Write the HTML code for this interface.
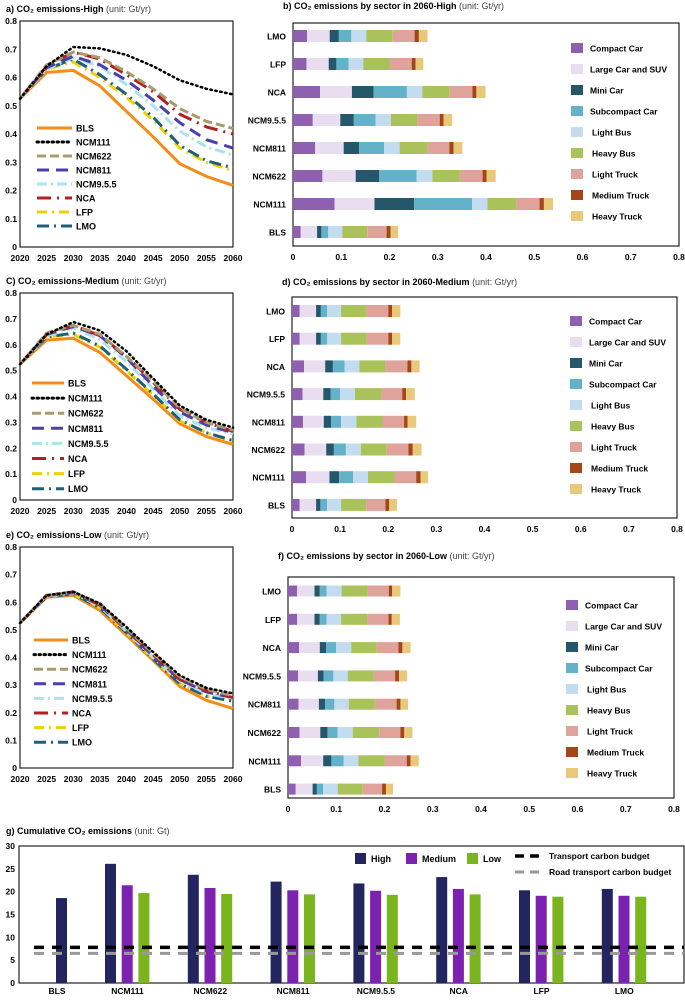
<!DOCTYPE html>
<html><head><meta charset="utf-8"><style>
html,body{margin:0;padding:0;background:#fff}
svg text{font-family:"Liberation Sans",Arial,sans-serif}
</style></head><body>
<svg id="s" width="685" height="997" viewBox="0 0 685 997" xmlns="http://www.w3.org/2000/svg"></svg>
<script>
const S=document.getElementById('s');let h='';
function T(x,y,t,o={}){h+=`<text x="${x}" y="${y}" font-size="${o.fs||9}" font-weight="${o.w||'bold'}" fill="${o.c||'#000'}" text-anchor="${o.a||'start'}">${t}</text>`;}
function title(x,y,a,b){h+=`<text x="${x}" y="${y}" font-size="9" font-family="Liberation Sans"><tspan font-weight="bold">${a}</tspan><tspan font-weight="normal" fill="#444"> ${b}</tspan></text>`;}
const styles={BLS:['#f28c1c',''],NCM111:['#000','1.5 3.5'],NCM622:['#a89c6c','9 4'],NCM811:['#4b3fb0','12 7'],'NCM9.5.5':['#a8e4ea','10 4 2 4'],NCA:['#b32020','14 6 2 6'],LFP:['#ecd000','10 5 2 5'],LMO:['#1f5f7a','12 5 2 5']};
const names=['BLS','NCM111','NCM622','NCM811','NCM9.5.5','NCA','LFP','LMO'];
function lineP(top,bot,data,leg,tt){
 const L=20,R=233;
 title(6,top-9,tt[0],tt[1]);
 h+=`<rect x="${L}" y="${top}" width="${R-L}" height="${bot-top}" fill="none" stroke="#222" stroke-width="1.2"/>`;
 for(let i=0;i<=8;i++){let y=bot-(bot-top)*i/8;T(17,y+3,i==0?'0':(i/10).toFixed(1),{a:'end',fs:8.5});}
 for(let i=0;i<=8;i++){let x=L+(R-L)*i/8;T(x,bot+14,2020+5*i,{a:'middle',fs:8.5});}
 const order=['BLS','LFP','LMO','NCM9.5.5','NCM811','NCA','NCM622','NCM111'];
 for(const n of order){const d=data[n];const st=styles[n];
  let p=d.map((v,i)=>`${(L+(R-L)*i/8).toFixed(1)},${(bot-(bot-top)*v/0.8).toFixed(1)}`).join(' ');
  h+=`<polyline points="${p}" fill="none" stroke="${st[0]}" stroke-width="${n=='NCM111'?2.5:3}" stroke-linecap="${n=='NCM111'?'round':'butt'}" ${st[1]?`stroke-dasharray="${st[1]}"`:''}/>`;}
 names.forEach((n,i)=>{const y=leg[0]+leg[1]*i;const st=styles[n];
  h+=`<line x1="${leg[2]}" x2="${leg[3]}" y1="${y}" y2="${y}" stroke="${st[0]}" stroke-width="3" stroke-linecap="${n=='NCM111'?'round':'butt'}" ${st[1]?`stroke-dasharray="${st[1]}"`:''}/>`;
  T(leg[3]+4,y+3.5,n,{fs:9});});
}
lineP(21,247,{BLS:[.525,.618,.625,.57,.48,.39,.295,.25,.218],NCM111:[.525,.64,.708,.703,.68,.64,.59,.56,.54],NCM622:[.525,.645,.69,.67,.62,.56,.49,.445,.42],NCM811:[.525,.635,.675,.645,.59,.52,.44,.38,.35],'NCM9.5.5':[.525,.63,.67,.64,.575,.5,.41,.355,.325],NCA:[.525,.64,.69,.665,.61,.55,.47,.425,.4],LFP:[.525,.63,.655,.6,.53,.45,.35,.3,.27],LMO:[.525,.63,.665,.61,.54,.46,.36,.305,.28]},[128,14,37,72],['a) CO₂ emissions-High','(unit: Gt/yr)']);
lineP(293,500,{BLS:[.525,.618,.625,.57,.48,.39,.295,.245,.215],NCM111:[.525,.64,.688,.655,.575,.47,.365,.31,.28],NCM622:[.525,.645,.675,.64,.555,.46,.355,.3,.27],NCM811:[.525,.64,.67,.635,.55,.44,.34,.29,.26],'NCM9.5.5':[.525,.635,.665,.62,.535,.43,.325,.28,.255],NCA:[.525,.64,.675,.635,.555,.455,.35,.3,.265],LFP:[.525,.63,.64,.59,.5,.405,.305,.26,.225],LMO:[.525,.63,.645,.595,.505,.41,.31,.26,.23]},[383,15.1,32,64],['C) CO₂ emissions-Medium','(unit: Gt/yr)']);
lineP(547,768,{BLS:[.525,.618,.625,.57,.48,.39,.295,.245,.215],NCM111:[.525,.625,.638,.595,.51,.42,.335,.29,.27],NCM622:[.525,.625,.637,.595,.505,.415,.33,.285,.262],NCM811:[.525,.624,.635,.59,.5,.405,.32,.275,.255],'NCM9.5.5':[.525,.622,.633,.585,.495,.4,.315,.27,.25],NCA:[.525,.625,.638,.59,.5,.41,.32,.28,.255],LFP:[.525,.62,.63,.58,.49,.395,.305,.26,.24],LMO:[.525,.62,.63,.58,.49,.395,.305,.26,.242]},[640,14.6,34,68],['e) CO₂ emissions-Low','(unit: Gt/yr)']);

const sc=['#8f5fb0','#e9def0','#25566a','#64b2c9','#c3dcef','#a9c25a','#e0a39c','#a4461a','#e8c87a'];
const sn=['Compact Car','Large Car and SUV','Mini Car','Subcompact Car','Light Bus','Heavy Bus','Light Truck','Medium Truck','Heavy Truck'];
const cats=['LMO','LFP','NCA','NCM9.5.5','NCM811','NCM622','NCM111','BLS'];
function barP(L,R,top,bot,cy,bh,data,leg,tt,tty){
 title(L-10,tty,tt[0],tt[1]);
 h+=`<rect x="${L}" y="${top}" width="${R-L}" height="${bot-top}" fill="none" stroke="#222" stroke-width="1.2"/>`;
 for(let i=0;i<=8;i++){let x=L+(R-L)*i/8;T(x,bot+14,i==0?'0':(i/10).toFixed(1),{a:'middle',fs:8.5});}
 cats.forEach((c,k)=>{const y=cy[0]+cy[1]*k;T(L-7,y+3.5,c,{a:'end',fs:8.5});
  const d=data[k];for(let j=0;j<9;j++){const x1=L+(R-L)*d[j]/0.8,x2=L+(R-L)*d[j+1]/0.8;
   h+=`<rect x="${x1.toFixed(1)}" y="${y-bh/2}" width="${(x2-x1).toFixed(1)}" height="${bh}" fill="${sc[j]}"/>`;}});
 sn.forEach((n,i)=>{const y=leg[1]+leg[2]*i;h+=`<rect x="${leg[0]}" y="${y-5}" width="12" height="10" fill="${sc[i]}"/>`;T(leg[0]+19+(i>=4?2:0),y+3.5,n,{fs:8.5});});
}
barP(293,679,23,246,[36,28],12,[
[0,.029,.076,.095,.121,.152,.207,.252,.261,.279],[0,.028,.074,.090,.115,.146,.200,.246,.254,.270],[0,.056,.122,.167,.236,.268,.325,.372,.380,.399],[0,.041,.098,.126,.171,.203,.258,.304,.312,.330],[0,.046,.105,.137,.189,.221,.279,.324,.333,.351],[0,.061,.130,.179,.256,.289,.346,.393,.401,.420],[0,.086,.169,.251,.371,.403,.463,.511,.520,.539],[0,.016,.050,.059,.073,.102,.154,.194,.202,.218]],[571,48,21],['b) CO₂ emissions by sector in 2060-High','(unit: Gt/yr)'],9);
barP(292,677,297,518,[311,27.7],12,[
[0,.016,.050,.060,.073,.102,.155,.200,.208,.225],[0,.016,.050,.060,.073,.102,.155,.200,.208,.225],[0,.025,.069,.085,.109,.140,.194,.240,.248,.265],[0,.022,.065,.080,.100,.131,.185,.229,.237,.255],[0,.023,.066,.081,.102,.134,.188,.233,.240,.258],[0,.026,.071,.087,.112,.143,.197,.242,.251,.269],[0,.029,.078,.098,.127,.158,.213,.258,.267,.283],[0,.016,.050,.059,.073,.102,.154,.194,.202,.218]],[570,321,21],['d) CO₂ emissions by sector in 2060-Medium','(unit: Gt/yr)'],285);
barP(288,674,577,798,[591,28.3],11,[
[0,.019,.055,.066,.080,.111,.165,.209,.216,.233],[0,.019,.055,.066,.080,.110,.164,.208,.215,.232],[0,.023,.066,.079,.100,.131,.184,.229,.237,.254],[0,.021,.062,.074,.094,.124,.178,.222,.230,.247],[0,.022,.064,.077,.096,.126,.180,.225,.233,.249],[0,.024,.067,.082,.103,.134,.189,.233,.241,.258],[0,.027,.073,.090,.115,.146,.201,.246,.254,.271],[0,.016,.051,.060,.073,.103,.155,.195,.203,.218]],[566,605,21],['f) CO₂ emissions by sector in 2060-Low','(unit: Gt/yr)'],559);

title(6,834,'g) Cumulative CO₂ emissions','(unit: Gt)');
const gt=846,gb=983,gl=19,gr=684,k=(gb-gt)/30;
h+=`<rect x="${gl}" y="${gt}" width="${gr-gl}" height="${gb-gt}" fill="none" stroke="#222" stroke-width="1.2"/>`;
for(let v=0;v<=30;v+=5)T(15,gb-v*k+3,v,{a:'end',fs:8.5});
const gc=['#23265e','#7b22b0','#7ab51d'];
const hi=[26.1,23.7,22.2,21.8,23.2,20.3,20.6],me=[21.4,20.8,20.3,20.2,20.6,19.1,19.1],lo=[19.7,19.5,19.4,19.3,19.4,18.9,18.9];
const gcat=['NCM111','NCM622','NCM811','NCM9.5.5','NCA','LFP','LMO'];
h+=`<rect x="56" y="${gb-18.6*k}" width="11" height="${18.6*k}" fill="${gc[0]}"/>`;T(57,gb+11,'BLS',{a:'middle',fs:8.5});
gcat.forEach((c,i)=>{const cx=127.5+82.8*i;[hi,me,lo].forEach((a,j)=>{h+=`<rect x="${cx-22.5+16.7*j}" y="${gb-a[i]*k}" width="11" height="${a[i]*k}" fill="${gc[j]}"/>`;});T(cx,gb+11,c,{a:'middle',fs:8.5});});
h+=`<line x1="${gl+15}" x2="${gr}" y1="${gb-7.8*k}" y2="${gb-7.8*k}" stroke="#000" stroke-width="3.5" stroke-dasharray="10 8"/>`;
h+=`<line x1="${gl+15}" x2="${gr}" y1="${gb-6.5*k}" y2="${gb-6.5*k}" stroke="#999" stroke-width="3" stroke-dasharray="10 8"/>`;
[['High',355],['Medium',406],['Low',467]].forEach((a,j)=>{h+=`<rect x="${a[1]}" y="853" width="11" height="11" fill="${gc[j]}"/>`;T(a[1]+16,862,a[0],{fs:9});});
h+=`<line x1="515" x2="545" y1="856" y2="856" stroke="#000" stroke-width="3.5" stroke-dasharray="9 6"/>`;T(549,859,'Transport carbon budget',{fs:8.5});
h+=`<line x1="515" x2="545" y1="872" y2="872" stroke="#999" stroke-width="3" stroke-dasharray="9 6"/>`;T(549,875,'Road transport carbon budget',{fs:8.5});
S.innerHTML=h;
</script>
</body></html>
